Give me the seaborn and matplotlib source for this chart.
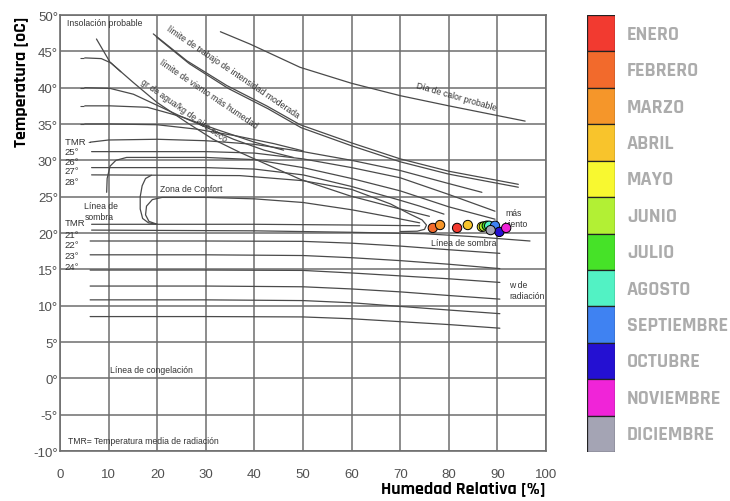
import matplotlib
matplotlib.use('Agg')
import matplotlib.pyplot as plt
import seaborn as sns

# monthly points (humedad relativa %, temperatura oC)
months = ['ENERO', 'FEBRERO', 'MARZO', 'ABRIL', 'MAYO', 'JUNIO', 'JULIO',
          'AGOSTO', 'SEPTIEMBRE', 'OCTUBRE', 'NOVIEMBRE', 'DICIEMBRE']
month_colors = ['#f23a30', '#f26a2c', '#f5962a', '#f8c42c', '#f8f830', '#b2f034',
                '#46e228', '#52f2c4', '#3f82f2', '#2410d2', '#f024d8', '#a4a4b4']
hum = [81.7, 76.7, 78.2, 83.9, 86.8, 87.2, 87.8, 88.3, 89.5, 90.4, 91.8, 88.6]
temp = [20.7, 20.7, 21.1, 21.1, 20.85, 20.9, 21.0, 21.0, 21.0, 20.15, 20.7, 20.4]

x_ticks = list(range(0, 101, 10))
y_ticks = list(range(-10, 51, 5))
y_ticklabels = [f'{v}°' for v in y_ticks]

# curves
dia_calor_x = [33, 39.1, 49.4, 60, 70, 80, 95.7]
dia_calor_y = [47.7, 46.0, 42.8, 40.6, 38.9, 37.5, 35.4]

trabajo_x = [19.2, 26.1, 34.3, 42.5, 49.4, 60, 70, 80, 94.3]
trabajo_y = [47.4, 43.7, 40.3, 37.5, 34.9, 32.4, 30.2, 28.5, 26.7]
trabajo2_x = [19.8, 26.6, 34.6, 42.8, 49.6, 60, 70, 80, 94.3]
trabajo2_y = [47.0, 43.3, 39.9, 37.1, 34.5, 32.0, 29.8, 28.1, 26.3]

insol_x = [7.5, 10.3, 15.1, 19.9, 26.1, 31.5, 37, 43, 49.4, 59.7, 70, 76]
insol_y = [46.7, 43.5, 40.7, 38.0, 35.2, 32.9, 31.1, 29.3, 27.4, 25.1, 23.3, 22.3]

u1_x = [5.1, 8.5, 10.5, 12.5]
u1_y = [44.1, 44.0, 43.4, 42.2]
u2_x = [5.1, 10.3, 15.1, 19.9, 24.7, 30.2, 35.7, 42, 48]
u2_y = [40.0, 39.9, 39.1, 37.6, 36.1, 34.5, 32.9, 31.4, 30.4]
u3_x = [5.1, 10.3, 18, 25, 32, 40, 46]
u3_y = [37.5, 37.5, 37.3, 36.0, 34.3, 32.5, 31.4]
u4_x = [5.1, 10.3, 20, 28, 36, 44, 50]
u4_y = [35.0, 35.0, 34.9, 34.3, 33.4, 32.3, 31.3]

t0_x = [6.2, 10, 20, 30, 40, 50, 60, 70, 80, 86.8]
t0_y = [32.5, 32.8, 32.9, 32.7, 32.2, 31.2, 30.0, 28.6, 26.8, 25.6]
t1_x = [6.5, 30, 40, 50, 60, 70, 80, 89.5]
t1_y = [31.2, 31.2, 31.0, 30.2, 29.0, 27.6, 25.3, 23.0]
t2_x = [9.6, 9.7, 10.3, 11.5, 13.7, 30, 40, 50, 60, 70, 80, 89.5]
t2_y = [25.6, 27.5, 29.2, 30.0, 30.4, 30.4, 30.1, 29.0, 27.5, 25.8, 23.6, 21.9]
t3_x = [6.5, 30, 40, 50, 60, 70, 74, 79]
t3_y = [29.0, 29.0, 28.8, 28.0, 26.4, 24.5, 23.7, 22.6]
t4_x = [6.5, 37, 50, 60, 68, 72, 74.5, 75.4, 75.0, 73.5, 70]
t4_y = [28.0, 27.9, 27.2, 26.0, 24.0, 22.6, 21.8, 21.1, 20.5, 20.25, 20.2]

confort_x = [18.8, 17.6, 16.9, 16.5, 16.5, 17.0, 18.2, 20.0]
confort_y = [27.95, 27.5, 26.5, 25.0, 23.3, 22.0, 21.4, 21.2]
inner_x = [20.0, 18.3, 17.6, 17.8, 19.0, 21, 30, 40, 50, 60, 68, 74]
inner_y = [21.2, 21.6, 22.5, 23.7, 24.6, 24.9, 24.9, 24.7, 24.2, 23.2, 22.2, 21.4]

tmr21_x = [6.5, 40, 60, 74]
tmr21_y = [21.2, 21.2, 21.1, 21.0]
sombra_x = [6.5, 40, 60, 75, 85, 96.7]
sombra_y = [20.4, 20.3, 20.1, 19.9, 19.5, 18.9]

rad_x = [6.2, 30, 50, 60, 70, 80, 90.5]
rad1_y = [18.9, 18.9, 18.85, 18.6, 18.2, 17.7, 17.2]
rad2_y = [17.0, 17.0, 16.9, 16.6, 16.2, 15.7, 15.1]
rad3_y = [14.9, 14.9, 14.85, 14.5, 14.1, 13.7, 13.2]
rad4_y = [12.7, 12.7, 12.6, 12.3, 11.9, 11.4, 10.9]
rad5_y = [10.8, 10.8, 10.7, 10.4, 9.9, 9.4, 8.9]
rad6_y = [8.5, 8.5, 8.45, 8.2, 7.8, 7.4, 6.9]

sns.set_style('white')
plt.rcParams['font.family'] = ['Liberation Sans', 'DejaVu Sans']
label_font = ['Rajdhani', 'DejaVu Sans']

fig = plt.figure(figsize=(7.3, 5.02), dpi=100)
ax = fig.add_axes([0.0822, 0.0996, 0.6658, 0.8685])
ax_leg = fig.add_axes([0.804, 0.0976, 0.0384, 0.8705])

curves = [(dia_calor_x, dia_calor_y), (trabajo_x, trabajo_y), (trabajo2_x, trabajo2_y),
          (insol_x, insol_y), (u1_x, u1_y), (u2_x, u2_y), (u3_x, u3_y), (u4_x, u4_y),
          (t0_x, t0_y), (t1_x, t1_y), (t2_x, t2_y), (t3_x, t3_y), (t4_x, t4_y),
          (confort_x, confort_y), (inner_x, inner_y), (tmr21_x, tmr21_y),
          (sombra_x, sombra_y)]
for ry in [rad1_y, rad2_y, rad3_y, rad4_y, rad5_y, rad6_y]:
    curves.append((rad_x, ry))

for cx, cy in curves:
    sns.lineplot(x=cx, y=cy, sort=False, estimator=None, color='#4a4a4a',
                 lw=0.9, ax=ax)

# small end ticks on the left-hand lines
for cx, cy in [(u1_x, u1_y), (u2_x, u2_y), (u3_x, u3_y), (u4_x, u4_y)]:
    ax.plot(cx[0] - 0.6, cy[0], marker='_', color='#4a4a4a', ms=3, mew=0.8)

sns.scatterplot(x=hum, y=temp, hue=months, palette=month_colors, s=45,
                edgecolor='black', linewidth=0.7, legend=False, zorder=5, ax=ax)

ax.set_xlim(0, 100)
ax.set_ylim(-10, 50)
ax.set_xticks(x_ticks)
ax.set_yticks(y_ticks)
ax.set_yticklabels(y_ticklabels)
ax.grid(True, color='#6e6e6e', lw=1.1)
ax.set_axisbelow(True)
for s in ax.spines.values():
    s.set_color('#6e6e6e')
    s.set_linewidth(1.2)
ax.tick_params(axis='x', length=0, pad=12, labelsize=9.5, labelcolor='#505050')
ax.tick_params(axis='y', length=0, pad=1.5, labelsize=9.5, labelcolor='#505050')

bold = dict(family=label_font, weight='bold', size=13, color='black')
ax.set_xlabel('Humedad Relativa [%]', loc='right', labelpad=0, **bold)
ax.set_ylabel('Temperatura [oC]', loc='top', labelpad=4, **bold)

small = dict(fontsize=6.2, color='#333333')
ax.text(1.4, 49.0, 'Insolación probable', ha='left', va='center', **small)
ax.text(35.5, 42.3, 'límite de trabajo de intensidad moderada', rotation=-34,
        ha='center', va='center', **small)
ax.text(30.5, 39.2, 'límite de viento más humedad', rotation=-34,
        ha='center', va='center', **small)
ax.text(25.5, 36.9, 'gr de agua/kg de aire seco', rotation=-35,
        ha='center', va='center', **small)
ax.text(81.5, 38.9, 'Día de calor probable', rotation=-16,
        ha='center', va='center', **small)
ax.text(20.6, 26.1, 'Zona de Confort', ha='left', va='center', **small)
ax.text(5.0, 23.0, 'Línea de\nsombra', ha='left', va='center',
        linespacing=1.3, **small)
ax.text(76.3, 18.7, 'Línea de sombra', ha='left', va='center', **small)
ax.text(91.6, 22.1, 'más\nviento', ha='left', va='center', linespacing=1.3, **small)
ax.text(92.4, 12.1, 'w de\nradiación', ha='left', va='center', linespacing=1.3, **small)
ax.text(10.3, 1.2, 'Línea de congelación', ha='left', va='center', **small)
ax.text(1.7, -8.6, 'TMR= Temperatura media de radiación', ha='left', va='center', **small)
ax.text(1.0, 32.6, 'TMR -', ha='left', va='center', fontsize=6.8, color='#333333')
for lab, yy in [('25°', 31.2), ('26°', 29.85), ('27°', 28.6), ('28°', 27.1),
                ('TMR', 21.4), ('21°', 19.8), ('22°', 18.4), ('23°', 16.9), ('24°', 15.4)]:
    ax.text(1.0, yy, lab, ha='left', va='center', fontsize=6.8, color='#333333')

# month colour key
ax_leg.barh(range(len(months)), 1, height=1, color=month_colors,
            edgecolor='#222222', linewidth=0.9, left=0)
ax_leg.set_xlim(0, 1)
ax_leg.set_ylim(len(months) - 0.5, -0.5)
ax_leg.axis('off')
for i, m in enumerate(months):
    ax_leg.text(1.43, i, m, ha='left', va='center', fontsize=14.5,
                family=label_font, weight='bold', color='#acacac', clip_on=False)

fig.savefig('out.png', dpi=100)
